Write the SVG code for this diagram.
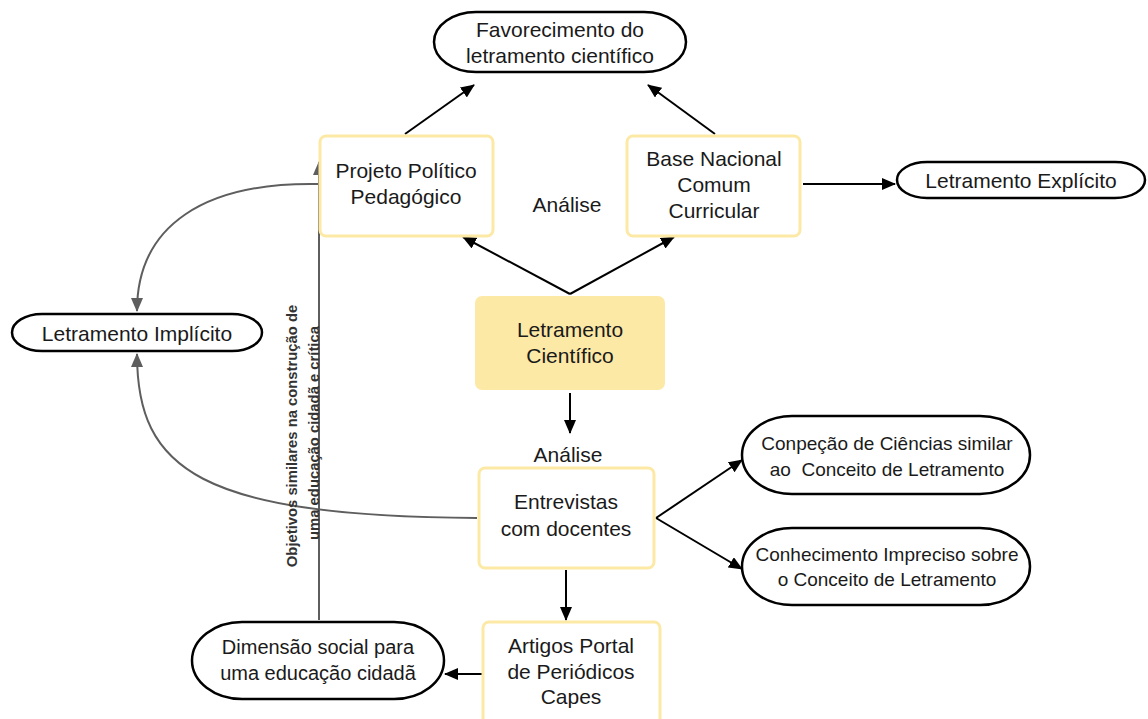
<svg xmlns="http://www.w3.org/2000/svg" width="1148" height="719" viewBox="0 0 1148 719">
  <defs>
    <marker id="arrow" viewBox="0 0 14 12" refX="13" refY="6" markerWidth="14" markerHeight="12" markerUnits="userSpaceOnUse" orient="auto">
      <path d="M0,0 L14,6 L0,12 Z" fill="#000"/>
    </marker>
    <marker id="arrowGray" viewBox="0 0 14 12" refX="13" refY="6" markerWidth="14" markerHeight="12" markerUnits="userSpaceOnUse" orient="auto">
      <path d="M0,0 L14,6 L0,12 Z" fill="#5e5e5e"/>
    </marker>
  </defs>
  <style>
    text { font-family: "Liberation Sans", Arial, sans-serif; font-size: 21px; fill: #1a1a1a; text-anchor: middle; dominant-baseline: central; }
    .sm { font-size: 19px; }
    .md { font-size: 20px; }
    .box { fill: #ffffff; stroke: #fde9a6; stroke-width: 3; }
    .core { fill: #fde9a6; stroke: #fde9a6; stroke-width: 2; }
    .term { fill: #ffffff; stroke: #000; stroke-width: 2.5; }
    .link { fill: none; stroke: #000; stroke-width: 2; marker-end: url(#arrow); }
    .glink { fill: none; stroke: #5e5e5e; stroke-width: 2; marker-end: url(#arrowGray); }
    .rot { font-size: 14.8px; font-weight: bold; fill: #333; }
  </style>

  <rect width="1148" height="719" fill="#ffffff"/>

  <!-- connectors -->
  <g id="connectors">
    <line class="link" x1="405" y1="134" x2="474" y2="85"/>
    <line class="link" x1="715" y1="134" x2="648" y2="85"/>
    <polyline class="link" points="570,294 463,237"/>
    <polyline class="link" points="570,294 674,237"/>
    <line class="link" x1="803" y1="184" x2="895" y2="184"/>
    <line class="link" x1="570" y1="393" x2="570" y2="433"/>
    <line class="link" x1="656" y1="518" x2="742" y2="460"/>
    <line class="link" x1="656" y1="518" x2="742" y2="569"/>
    <line class="link" x1="566" y1="570" x2="566" y2="620"/>
    <line class="link" x1="482" y1="674" x2="445" y2="674"/>
    <path class="glink" d="M318,184 C205,182 137,225 137,311"/>
    <path class="glink" d="M477,518 C200,516 137,470 137,354"/>
    <line class="glink" x1="319" y1="620" x2="319" y2="162"/>
    <text class="rot" transform="translate(292,436) rotate(-90)">Objetivos similares na construção de</text>
    <text class="rot" transform="translate(314,433) rotate(-90)">uma educação cidadã e crítica</text>
  </g>

  <!-- nodes -->
  <g id="favorecimento">
    <rect class="term" x="434" y="12" width="252" height="60" rx="42" ry="30"/>
    <text x="560" y="29">Favorecimento do</text>
    <text x="560" y="55">letramento científico</text>
  </g>

  <g id="ppp">
    <rect class="box" x="320" y="136" width="173" height="100" rx="6"/>
    <text x="406" y="170">Projeto Político</text>
    <text x="406" y="196">Pedagógico</text>
  </g>

  <g id="bncc">
    <rect class="box" x="627" y="136" width="173" height="100" rx="6"/>
    <text x="714" y="158">Base Nacional</text>
    <text x="714" y="184">Comum</text>
    <text x="714" y="210">Curricular</text>
  </g>

  <g id="analise-top">
    <text x="567" y="204">Análise</text>
  </g>

  <g id="explicito">
    <rect class="term" x="897" y="162" width="248" height="36" rx="30" ry="18"/>
    <text x="1021" y="180">Letramento Explícito</text>
  </g>

  <g id="implicito">
    <rect class="term" x="12" y="314" width="250" height="37" rx="30" ry="18.5"/>
    <text x="137" y="333">Letramento Implícito</text>
  </g>

  <g id="letramento-cientifico">
    <rect class="core" x="476" y="297" width="188" height="92" rx="6"/>
    <text x="570" y="329">Letramento</text>
    <text x="570" y="355">Científico</text>
  </g>

  <g id="analise-mid">
    <text x="568" y="454">Análise</text>
  </g>

  <g id="entrevistas">
    <rect class="box" x="479" y="468" width="175" height="100" rx="6"/>
    <text x="566" y="501">Entrevistas</text>
    <text x="566" y="528">com docentes</text>
  </g>

  <g id="concepcao">
    <rect class="term" x="742" y="416" width="288" height="78" rx="50" ry="39"/>
    <text class="sm" x="887" y="443">Conpeção de Ciências similar</text>
    <text class="sm" x="887" y="469" xml:space="preserve">ao  Conceito de Letramento</text>
  </g>

  <g id="conhecimento">
    <rect class="term" x="742" y="528" width="288" height="77" rx="50" ry="38.5"/>
    <text class="sm" x="887" y="554">Conhecimento Impreciso sobre</text>
    <text class="sm" x="887" y="579">o Conceito de Letramento</text>
  </g>

  <g id="artigos">
    <rect class="box" x="483" y="622" width="177" height="110" rx="6"/>
    <text x="571" y="645">Artigos Portal</text>
    <text x="571" y="671">de Periódicos</text>
    <text x="571" y="696">Capes</text>
  </g>

  <g id="dimensao">
    <rect class="term" x="192" y="622" width="252" height="77" rx="50" ry="38.5"/>
    <text class="md" x="318" y="647">Dimensão social para</text>
    <text class="md" x="318" y="673">uma educação cidadã</text>
  </g>
</svg>
